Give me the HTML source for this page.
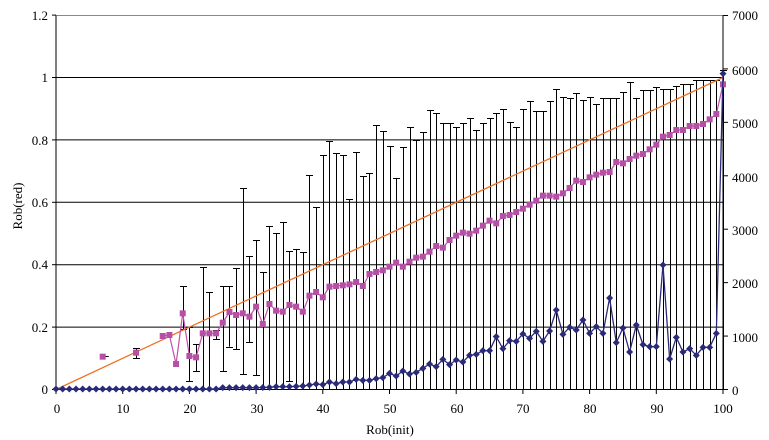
<!DOCTYPE html>
<html><head><meta charset="utf-8"><style>
html,body{margin:0;padding:0;background:#fff;}
svg{display:block;font-family:"Liberation Serif",serif;font-size:13px;}
</style></head><body>
<svg id="s" width="769" height="440" viewBox="0 0 769 440" xmlns="http://www.w3.org/2000/svg">
<rect width="769" height="440" fill="#fff"/>
<g id="grid"></g>
<g id="eb" stroke="#000" stroke-width="1"></g>
<g id="lines"></g>
<g fill="#000">
<text x="48" y="20" text-anchor="end">1.2</text>
<text x="48" y="82" text-anchor="end">1</text>
<text x="48" y="145" text-anchor="end">0.8</text>
<text x="48" y="207" text-anchor="end">0.6</text>
<text x="48" y="269" text-anchor="end">0.4</text>
<text x="48" y="332" text-anchor="end">0.2</text>
<text x="48" y="394" text-anchor="end">0</text>
<text x="732" y="20">7000</text>
<text x="732" y="75">6000</text>
<text x="732" y="128">5000</text>
<text x="732" y="182">4000</text>
<text x="732" y="235">3000</text>
<text x="732" y="288">2000</text>
<text x="732" y="342">1000</text>
<text x="732" y="395">0</text>
<g text-anchor="middle">
<text x="57" y="413">0</text><text x="123" y="413">10</text><text x="190" y="413">20</text>
<text x="257" y="413">30</text><text x="323" y="413">40</text><text x="390" y="413">50</text>
<text x="457" y="413">60</text><text x="523" y="413">70</text><text x="590" y="413">80</text>
<text x="657" y="413">90</text><text x="723" y="413">100</text>
<text x="390" y="434">Rob(init)</text>
</g>
<text x="0" y="0" text-anchor="middle" transform="translate(22,206) rotate(-90)">Rob(red)</text>
</g>
</svg>
<script>
var NS="http://www.w3.org/2000/svg";
function el(p,t,a){var e=document.createElementNS(NS,t);for(var k in a)e.setAttribute(k,a[k]);p.appendChild(e);return e;}
function X(v){return 56+6.67*v;}
var g=document.getElementById('grid');
[0.2,0.4,0.6,0.8,1.0].forEach(function(v){var y=389.5-312*v;el(g,'line',{x1:56,x2:723,y1:y,y2:y,stroke:'#000','stroke-width':1});});
el(g,'line',{x1:56,x2:723,y1:15.5,y2:15.5,stroke:'#888','stroke-width':1});
el(g,'line',{x1:56,x2:56,y1:15.5,y2:389.5,stroke:'#000'});
el(g,'line',{x1:723,x2:723,y1:15.5,y2:389.5,stroke:'#000'});
el(g,'line',{x1:56,x2:723,y1:389.5,y2:389.5,stroke:'#000'});
for(var i=0;i<=6;i++){var y=389.5-62.4*i;el(g,'line',{x1:52,x2:56,y1:y,y2:y,stroke:'#000'});}
for(var i=0;i<=7;i++){var y=389.5-53.43*i;el(g,'line',{x1:723,x2:728,y1:y,y2:y,stroke:'#000'});}
for(var i=0;i<=10;i++){var x=X(i*10);el(g,'line',{x1:x,x2:x,y1:389.5,y2:394,stroke:'#000'});}
var pink={7:1070,12:1058,16:1008,17:1005,18:1092,19:940,20:1068,21:1072,22:1000,23:1000,24:1000,25:968,26:936,27:945,28:940,29:950,30:920,31:972,32:912,33:932,34:935,35:915,36:920,37:935,38:887,39:876,40:892,41:860,42:858,43:856,44:853,45:846,46:858,47:822,48:816,49:811,50:800,51:788,52:800,53:785,54:773,55:770,56:755,57:738,58:743,59:720,60:707,61:698,62:701,63:692,64:677,65:662,66:670,67:648,68:645,69:636,70:626,71:614,72:602,73:587,74:587,75:590,76:580,77:564,78:542,79:546,80:532,81:524,82:518,83:516,84:486,85:490,86:477,87:467,88:462,89:448,90:434,91:410,92:405,93:390,94:390,95:378,96:378,97:372,98:358,99:342,100:253};
var top_={12:1045,19:858,20:980,21:1033,22:800,23:875,24:990,25:857,26:858,27:805,28:563,29:767,30:720,31:817,32:677,33:700,34:667,35:754,36:748,37:757,38:526,39:622,40:466,41:422,42:460,43:466,44:598,45:457,46:529,47:518,48:376,49:394,50:439,51:533,52:442,53:380,54:420,55:397,56:330,57:338,58:370,59:368,60:380,61:368,62:353,63:391,64:368,65:353,66:338,67:328,68:366,69:382,70:328,71:304,72:334,73:334,74:304,75:266,76:290,77:293,78:278,79:301,80:290,81:311,82:293,83:293,84:293,85:275,86:247,87:293,88:271,89:271,90:260,91:266,92:266,93:257,94:251,95:251,96:241,97:239,98:241,99:241,100:210};
var bot={12:1075,19:988,20:1143,21:1113,22:1168,23:1168,24:1018,25:1113,26:1040,27:1048,28:1123,29:1027,30:1125,35:1143};
var eb=document.getElementById('eb');
for(var k in top_){var x=Math.round(X(+k))+0.5,t=Math.round(top_[k]/3)+0.5,b=(bot[k]||1168)/3;
 el(eb,'line',{x1:x,x2:x,y1:t,y2:b});
 el(eb,'line',{x1:x-3.5,x2:x+3.5,y1:t,y2:t});
 if(b<389){b=Math.round(b)+0.5;el(eb,'line',{x1:x-3.5,x2:x+3.5,y1:b,y2:b});}}
el(eb,'line',{x1:X(7)+2,x2:X(7)+6,y1:356.5,y2:356.5});
var L=document.getElementById('lines');
el(L,'line',{x1:X(0),y1:389.5,x2:X(100),y2:77.5,stroke:'#f07020','stroke-width':1.3});
var pts=[];for(var k=16;k<=100;k++)if(pink[k])pts.push(X(k)+','+(pink[k]/3));
el(L,'polyline',{points:pts.join(' '),fill:'none',stroke:'#c050a8','stroke-width':1.2});
for(var k in pink){var x=X(+k),y=pink[k]/3;el(L,'rect',{x:x-3,y:y-3,width:6,height:6,fill:'#b64fa6'});}
var blue={25:1163,30:1163,32:1162,33:1160,35:1160,37:1158,38:1155,39:1152,40:1154,41:1146,42:1151,43:1146,44:1146,45:1138,46:1141,47:1141,48:1136,49:1133,50:1120,51:1128,52:1113,53:1122,54:1117,55:1105,56:1092,57:1100,58:1078,59:1094,60:1080,61:1086,62:1066,63:1063,64:1052,65:1052,66:1010,67:1046,68:1022,69:1024,70:1002,71:1015,72:994,73:1024,74:993,75:930,76:1003,77:982,78:990,79:960,80:1000,81:980,82:1000,83:894,84:1028,85:984,86:1056,87:975,88:1034,89:1040,90:1040,91:795,92:1077,93:1012,94:1056,95:1046,96:1066,97:1042,98:1042,99:1000,100:221};
var bp=[];for(var k=0;k<=100;k++){var v=blue[k];if(v===undefined){if(k<25)v=1167;else{var a=k-1;while(blue[a]===undefined&&a>0)a--;var c=k+1;while(blue[c]===undefined)c++;var va=blue[a]||1167;v=va+(blue[c]-va)*(k-a)/(c-a);}}bp.push([X(k),v/3]);}
el(L,'polyline',{points:bp.map(function(p){return p.join(',')}).join(' '),fill:'none',stroke:'#2a2a78','stroke-width':1.3});
bp.forEach(function(p){el(L,'polygon',{points:(p[0])+','+(p[1]-3.5)+' '+(p[0]+3.5)+','+p[1]+' '+p[0]+','+(p[1]+3.5)+' '+(p[0]-3.5)+','+p[1],fill:'#2a2a78'});});
</script>
</body></html>
